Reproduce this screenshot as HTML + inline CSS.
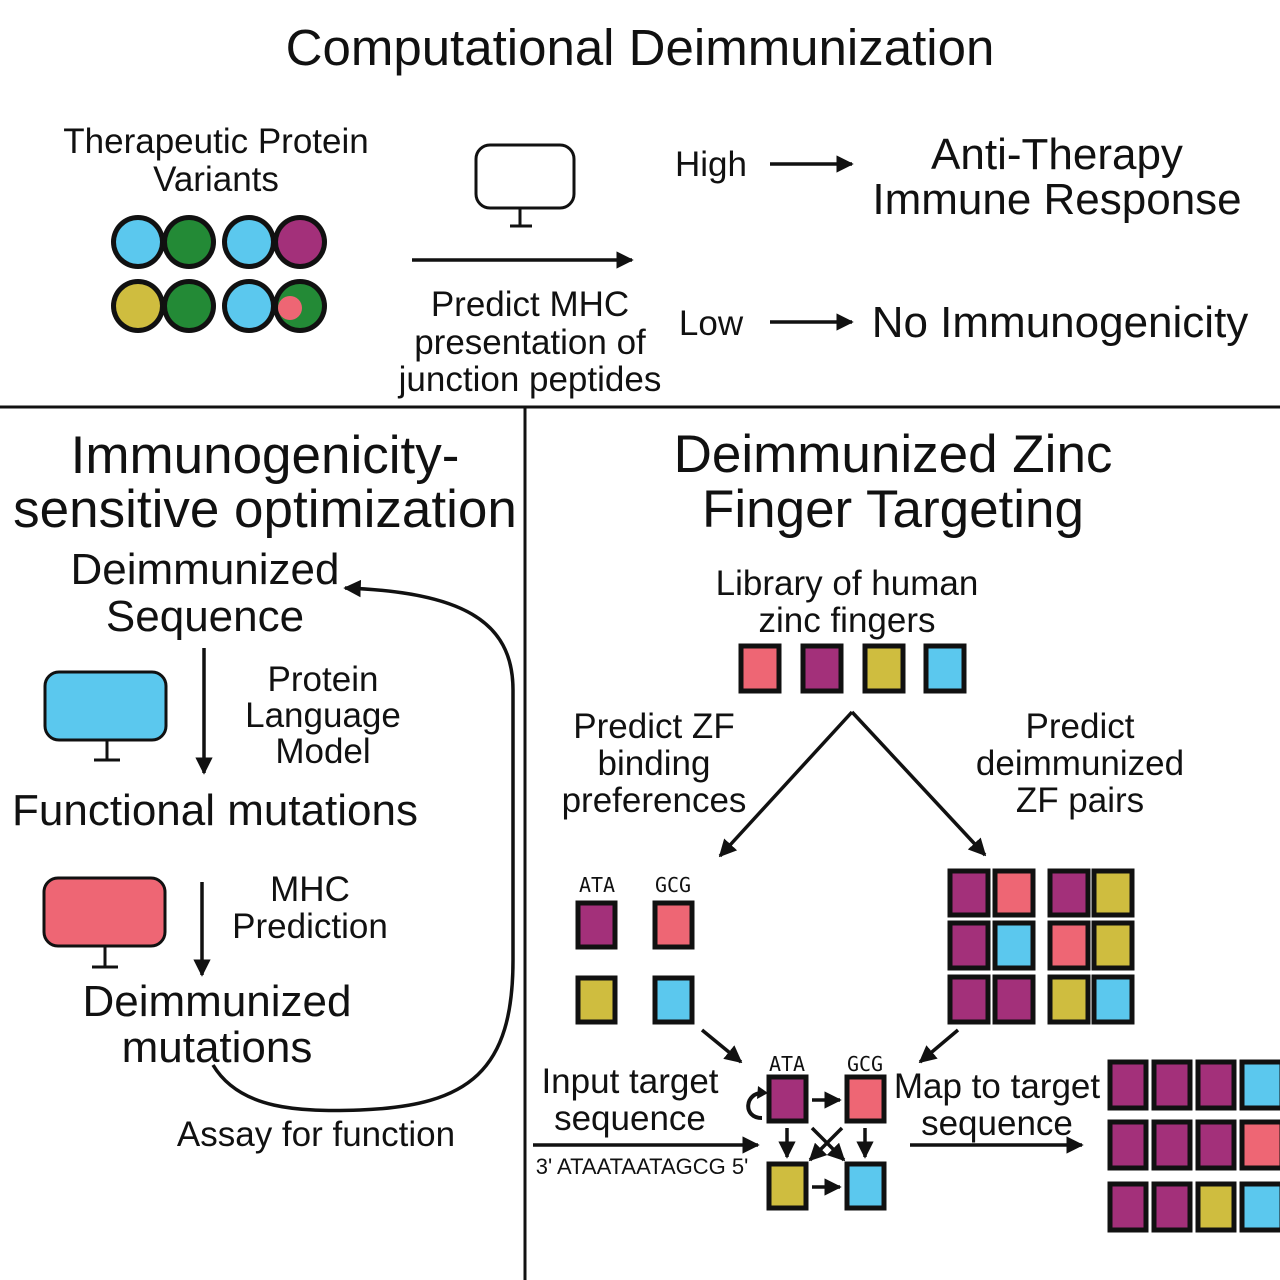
<!DOCTYPE html>
<html><head><meta charset="utf-8"><style>
html,body{margin:0;padding:0;background:#fff;}
svg{display:block;font-family:"Liberation Sans",Arial,sans-serif;}
</style></head><body>
<svg width="1280" height="1280" viewBox="0 0 1280 1280" xmlns="http://www.w3.org/2000/svg">
<defs>
<marker id="ah" viewBox="0 0 10 10" refX="9" refY="5" markerWidth="5" markerHeight="5" orient="auto"><path d="M0,0 L10,5 L0,10 z" fill="#111"/></marker>
<clipPath id="c1"><rect x="100" y="200" width="63" height="140"/></clipPath>
<clipPath id="c2"><rect x="163" y="200" width="60" height="140"/></clipPath>
<clipPath id="c3"><rect x="218" y="200" width="56" height="140"/></clipPath>
<clipPath id="c4"><rect x="274" y="200" width="63" height="140"/></clipPath>
</defs>
<rect width="1280" height="1280" fill="#fff"/>
<g fill="#111" text-anchor="middle">
<text x="640" y="65" font-size="51">Computational Deimmunization</text>
<text x="216" y="153" font-size="35">Therapeutic Protein</text>
<text x="216" y="191" font-size="35">Variants</text>
<text x="530" y="316" font-size="35">Predict MHC</text>
<text x="530" y="354" font-size="35">presentation of</text>
<text x="530" y="391" font-size="35">junction peptides</text>
<text x="711" y="176" font-size="35">High</text>
<text x="711" y="335" font-size="35">Low</text>
<text x="1057" y="169" font-size="44">Anti-Therapy</text>
<text x="1057" y="214" font-size="44">Immune Response</text>
<text x="1060" y="337" font-size="44">No Immunogenicity</text>
<text x="265" y="473" font-size="53">Immunogenicity-</text>
<text x="265" y="527" font-size="53">sensitive optimization</text>
<text x="205" y="584" font-size="44">Deimmunized</text>
<text x="205" y="631" font-size="44">Sequence</text>
<text x="323" y="691" font-size="35">Protein</text>
<text x="323" y="727" font-size="35">Language</text>
<text x="323" y="763" font-size="35">Model</text>
<text x="215" y="825" font-size="44">Functional mutations</text>
<text x="310" y="901" font-size="35">MHC</text>
<text x="310" y="938" font-size="35">Prediction</text>
<text x="217" y="1016" font-size="44">Deimmunized</text>
<text x="217" y="1062" font-size="44">mutations</text>
<text x="316" y="1146" font-size="35">Assay for function</text>
<text x="893" y="472" font-size="53">Deimmunized Zinc</text>
<text x="893" y="527" font-size="53">Finger Targeting</text>
<text x="847" y="595" font-size="35">Library of human</text>
<text x="847" y="632" font-size="35">zinc fingers</text>
<text x="654" y="738" font-size="35">Predict ZF</text>
<text x="654" y="775" font-size="35">binding</text>
<text x="654" y="812" font-size="35">preferences</text>
<text x="1080" y="738" font-size="35">Predict</text>
<text x="1080" y="775" font-size="35">deimmunized</text>
<text x="1080" y="812" font-size="35">ZF pairs</text>
<text x="630" y="1093" font-size="35">Input target</text>
<text x="630" y="1130" font-size="35">sequence</text>
<text x="642" y="1174" font-size="22">3' ATAATAATAGCG 5'</text>
<text x="997" y="1098" font-size="35">Map to target</text>
<text x="997" y="1135" font-size="35">sequence</text>
<g font-family="'DejaVu Sans Mono','Liberation Mono',monospace" font-size="20">
<text x="597" y="892">ATA</text><text x="673" y="892">GCG</text>
<text x="787" y="1071">ATA</text><text x="865" y="1071">GCG</text>
</g>
</g>
<line x1="0" y1="407" x2="1280" y2="407" stroke="#111" stroke-width="3"/>
<line x1="525" y1="407" x2="525" y2="1280" stroke="#111" stroke-width="3"/>
<g fill="#111">
<circle cx="138" cy="242" r="27"/><circle cx="189" cy="242" r="27"/>
<circle cx="249" cy="242" r="27"/><circle cx="300" cy="242" r="27"/>
<circle cx="138" cy="306" r="27"/><circle cx="189" cy="306" r="27"/>
<circle cx="249" cy="306" r="27"/><circle cx="300" cy="306" r="27"/>
</g>
<g stroke="none">
<circle cx="138" cy="242" r="22" fill="#5bc8ee" clip-path="url(#c1)"/><circle cx="189" cy="242" r="22" fill="#5bc8ee" clip-path="url(#c1)"/>
<circle cx="138" cy="242" r="22" fill="#238a36" clip-path="url(#c2)"/><circle cx="189" cy="242" r="22" fill="#238a36" clip-path="url(#c2)"/>
<circle cx="249" cy="242" r="22" fill="#5bc8ee" clip-path="url(#c3)"/><circle cx="300" cy="242" r="22" fill="#5bc8ee" clip-path="url(#c3)"/>
<circle cx="249" cy="242" r="22" fill="#a3307a" clip-path="url(#c4)"/><circle cx="300" cy="242" r="22" fill="#a3307a" clip-path="url(#c4)"/>
<circle cx="138" cy="306" r="22" fill="#cfbd3f" clip-path="url(#c1)"/><circle cx="189" cy="306" r="22" fill="#cfbd3f" clip-path="url(#c1)"/>
<circle cx="138" cy="306" r="22" fill="#238a36" clip-path="url(#c2)"/><circle cx="189" cy="306" r="22" fill="#238a36" clip-path="url(#c2)"/>
<circle cx="249" cy="306" r="22" fill="#5bc8ee" clip-path="url(#c3)"/><circle cx="300" cy="306" r="22" fill="#5bc8ee" clip-path="url(#c3)"/>
<circle cx="249" cy="306" r="22" fill="#238a36" clip-path="url(#c4)"/><circle cx="300" cy="306" r="22" fill="#238a36" clip-path="url(#c4)"/>
<circle cx="290" cy="308" r="12" fill="#ee6674"/>
</g>
<g stroke="#111" stroke-width="3" fill="none">
<rect x="476" y="145" width="98" height="63" rx="14" fill="#fff"/>
<line x1="520" y1="208" x2="520" y2="226"/><line x1="510" y1="226" x2="532" y2="226"/>
<rect x="45" y="672" width="121" height="68" rx="14" fill="#5bc8ee"/>
<line x1="107" y1="740" x2="107" y2="760"/><line x1="94" y1="760" x2="120" y2="760"/>
<rect x="44" y="878" width="121" height="68" rx="14" fill="#ee6674"/>
<line x1="105" y1="946" x2="105" y2="967"/><line x1="92" y1="967" x2="118" y2="967"/>
</g>
<g stroke="#111" stroke-width="3.5" fill="none" marker-end="url(#ah)">
<line x1="412" y1="260" x2="632" y2="260"/>
<line x1="770" y1="164" x2="852" y2="164"/>
<line x1="770" y1="322" x2="852" y2="322"/>
<line x1="204" y1="648" x2="204" y2="773"/>
<line x1="202" y1="882" x2="202" y2="975"/>
<path d="M213,1065 C240,1110 300,1112 360,1110 C470,1106 513,1070 513,960 L513,690 C513,620 460,592 345,588"/>
<path d="M852,712 L720,856"/>
<path d="M852,712 L985,855"/>
<path d="M702,1030 L741,1062"/>
<path d="M958,1030 L920,1062"/>
<line x1="533" y1="1145" x2="758" y2="1145"/>
<line x1="910" y1="1145" x2="1082" y2="1145"/>
<line x1="812" y1="1100" x2="840" y2="1100"/>
<line x1="787" y1="1128" x2="787" y2="1157"/>
<line x1="865" y1="1128" x2="865" y2="1157"/>
<line x1="812" y1="1187" x2="840" y2="1187"/>
<line x1="842" y1="1128" x2="810" y2="1160"/>
<line x1="812" y1="1128" x2="844" y2="1160"/>
</g>
<path d="M763,1093 C745,1092 742,1118 762,1118" stroke="#111" stroke-width="4" fill="none"/>
<path d="M758,1086 L768,1093 L757,1099 z" fill="#111"/>
<g stroke="#111" stroke-width="5">
<rect x="741" y="646" width="38" height="45" fill="#ee6674"/>
<rect x="803" y="646" width="38" height="45" fill="#a3307a"/>
<rect x="865" y="646" width="38" height="45" fill="#cfbd3f"/>
<rect x="926" y="646" width="38" height="45" fill="#5bc8ee"/>
<rect x="578" y="903" width="37" height="44" fill="#a3307a"/>
<rect x="655" y="903" width="37" height="44" fill="#ee6674"/>
<rect x="578" y="978" width="37" height="44" fill="#cfbd3f"/>
<rect x="655" y="978" width="37" height="44" fill="#5bc8ee"/>
<rect x="769" y="1077" width="37" height="44" fill="#a3307a"/>
<rect x="847" y="1077" width="37" height="44" fill="#ee6674"/>
<rect x="769" y="1164" width="37" height="44" fill="#cfbd3f"/>
<rect x="847" y="1164" width="37" height="44" fill="#5bc8ee"/>
<rect x="950" y="871" width="38" height="44" fill="#a3307a"/><rect x="995" y="871" width="38" height="44" fill="#ee6674"/>
<rect x="1050" y="871" width="38" height="44" fill="#a3307a"/><rect x="1094" y="871" width="38" height="44" fill="#cfbd3f"/>
<rect x="950" y="923" width="38" height="45" fill="#a3307a"/><rect x="995" y="923" width="38" height="45" fill="#5bc8ee"/>
<rect x="1050" y="923" width="38" height="45" fill="#ee6674"/><rect x="1094" y="923" width="38" height="45" fill="#cfbd3f"/>
<rect x="950" y="977" width="38" height="45" fill="#a3307a"/><rect x="995" y="977" width="38" height="45" fill="#a3307a"/>
<rect x="1050" y="977" width="38" height="45" fill="#cfbd3f"/><rect x="1094" y="977" width="38" height="45" fill="#5bc8ee"/>
<rect x="1110" y="1062" width="36" height="46" fill="#a3307a"/><rect x="1154" y="1062" width="36" height="46" fill="#a3307a"/><rect x="1198" y="1062" width="36" height="46" fill="#a3307a"/><rect x="1242" y="1062" width="40" height="46" fill="#5bc8ee"/>
<rect x="1110" y="1122" width="36" height="46" fill="#a3307a"/><rect x="1154" y="1122" width="36" height="46" fill="#a3307a"/><rect x="1198" y="1122" width="36" height="46" fill="#a3307a"/><rect x="1242" y="1122" width="40" height="46" fill="#ee6674"/>
<rect x="1110" y="1184" width="36" height="46" fill="#a3307a"/><rect x="1154" y="1184" width="36" height="46" fill="#a3307a"/><rect x="1198" y="1184" width="36" height="46" fill="#cfbd3f"/><rect x="1242" y="1184" width="40" height="46" fill="#5bc8ee"/>
</g>
</svg>
</body></html>
